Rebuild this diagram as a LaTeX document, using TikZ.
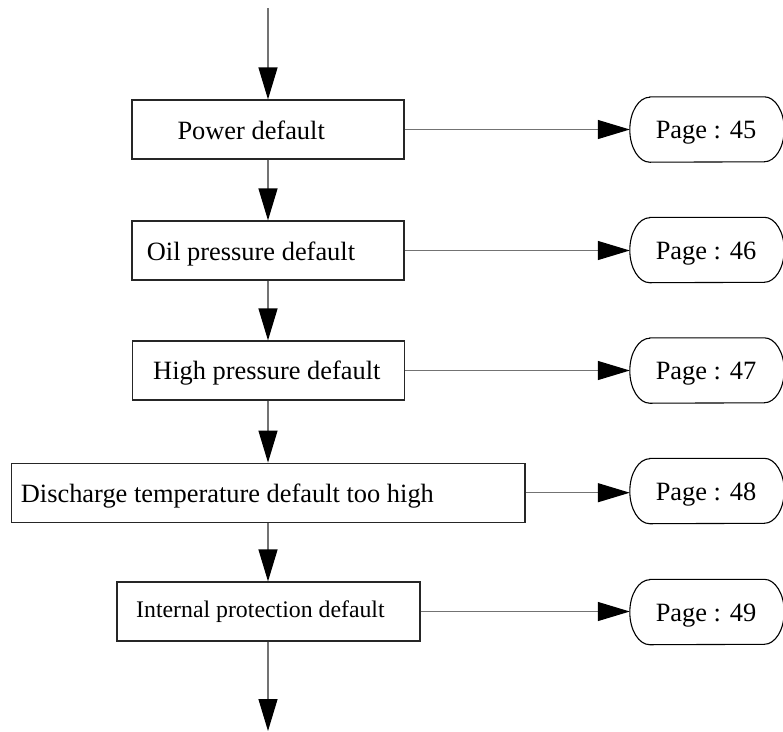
\documentclass[tikz,border=0pt]{standalone}
\usepackage{fontspec}
\setmainfont{Liberation Serif}
\usetikzlibrary{arrows.meta}
\newcommand{\pilloutline}[1]{\draw[pillline] ([xshift=20pt]#1.north west) -- ([xshift=-20pt]#1.north east) arc[start angle=90,end angle=-90,x radius=20pt,y radius=32.5pt] -- ([xshift=20pt]#1.south west) arc[start angle=270,end angle=90,x radius=20pt,y radius=32.5pt] -- cycle;}
\begin{document}
\begin{tikzpicture}[x=1pt,y=-1pt,
  box/.style={draw=black!85, line width=1.2pt, minimum width=#1, minimum height=59pt, inner sep=0pt},
  pillnode/.style={rectangle, minimum width=154pt, minimum height=65pt, inner sep=0pt},
  pillline/.style={draw=black, line width=1.1pt},
  lbl/.style={inner sep=0pt, anchor=base west, font=\fontsize{26.4}{30}\selectfont},
  plbl/.style={inner sep=0pt, anchor=base, font=\fontsize{26.4}{30}\selectfont},
  arr/.style={draw=black!55, line width=1.2pt, -{Triangle[length=32pt,width=19pt,color=black,fill=black]}}
]
\useasboundingbox (0,0) rectangle (783,731);
\clip (0,0) rectangle (783,731);

% boxes
\node[box=272pt] (b1) at (268,129.5) {};
\node[box=272pt] (b2) at (268,250.5) {};
\node[box=272pt] (b3) at (268.5,370.5) {};
\node[box=513.6pt] (b4) at (268.2,492.7) {};
\node[box=303pt] (b5) at (268.5,611.5) {};

% box texts
\node[lbl] (t1) at (177.3,139) {Power default};
\node[lbl] (t2) at (146.7,260) {Oil pressure default};
\node[lbl] (t3) at (153,379) {High pressure default};
\node[lbl] (t4) at (20.7,502) {Discharge temperature default too high};
\node[lbl, font=\fontsize{23.8}{27}\selectfont] (t5) at (136,617) {Internal protection default};

% pills
\node[pillnode] (p1) at (707,129.5) {};
\node[pillnode] (p2) at (707,250) {};
\node[pillnode] (p3) at (707,370.5) {};
\node[pillnode] (p4) at (707,491) {};
\node[pillnode] (p5) at (707,612) {};
\pilloutline{p1}
\pilloutline{p2}
\pilloutline{p3}
\pilloutline{p4}
\pilloutline{p5}
\node[plbl] (q1) at (706,138.5) {Page : 45};
\node[plbl] (q2) at (706,259) {Page : 46};
\node[plbl] (q3) at (706,379.5) {Page : 47};
\node[plbl] (q4) at (706,500) {Page : 48};
\node[plbl] (q5) at (706,621) {Page : 49};

% vertical flow
\coordinate (top) at (268,8);
\coordinate (bot) at (268,731);
\draw[arr] (top) -- (b1.north);
\draw[arr] (b1.south) -- (b2.north);
\draw[arr] (b2.south) -- (b2.south |- b3.north);
\draw[arr] (b3.south -| b2.south) -- (b2.south |- b4.north);
\draw[arr] (b4.south -| b2.south) -- (b2.south |- b5.north);
\draw[arr] (b5.south -| b2.south) -- (bot);

% horizontal arrows
\draw[arr] (b1.east) -- (b1.east -| p1.west);
\draw[arr] (b2.east) -- (b2.east -| p2.west);
\draw[arr] (b3.east) -- (b3.east -| p3.west);
\draw[arr] (b4.east) -- (b4.east -| p4.west);
\draw[arr] (b5.east) -- (b5.east -| p5.west);
\end{tikzpicture}
\end{document}
